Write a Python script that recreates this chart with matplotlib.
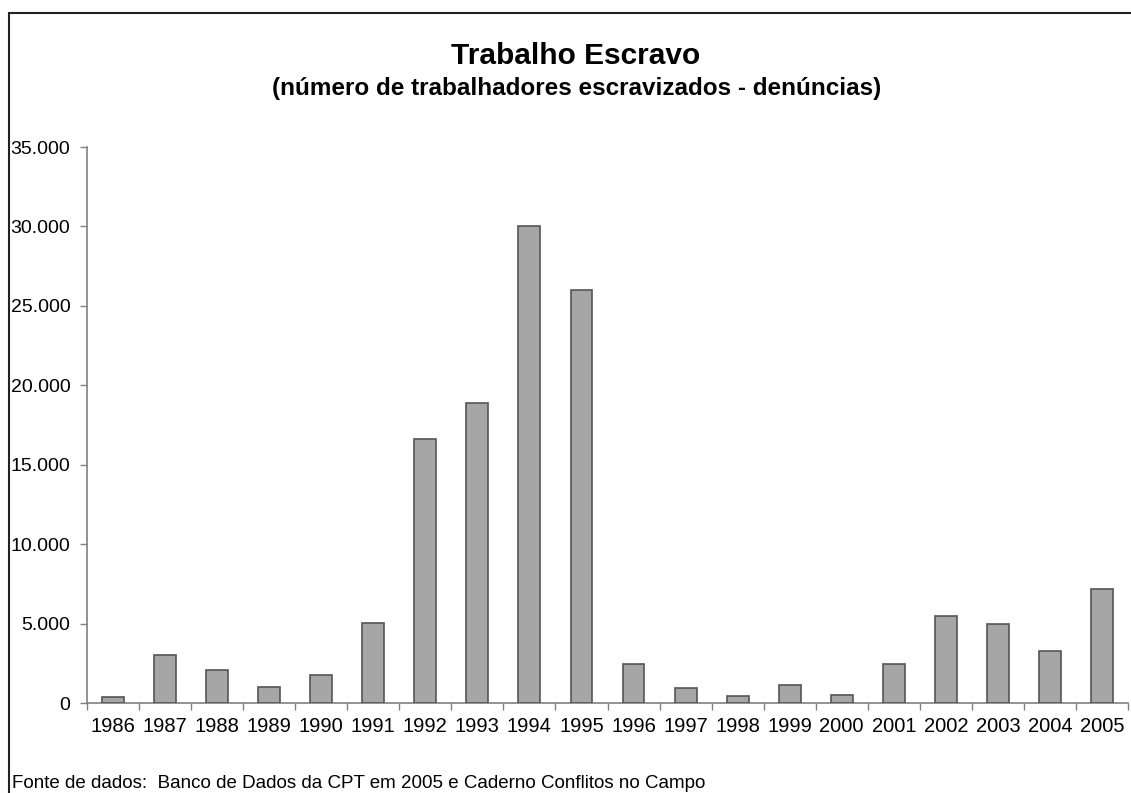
import matplotlib.pyplot as plt
from matplotlib.patches import Rectangle
from matplotlib.ticker import FuncFormatter, FixedLocator
import numpy as np

plt.rcParams['font.family'] = ['Liberation Sans', 'DejaVu Sans']

# Data
years = [1986, 1987, 1988, 1989, 1990, 1991, 1992, 1993, 1994, 1995,
         1996, 1997, 1998, 1999, 2000, 2001, 2002, 2003, 2004, 2005]
workers = [400, 3000, 2100, 1000, 1750, 5050, 16600, 18900, 30000, 26000,
           2450, 930, 470, 1120, 480, 2450, 5500, 4950, 3270, 7200]

title = "Trabalho Escravo"
subtitle = "(número de trabalhadores escravizados - denúncias)"
source = "Fonte de dados:  Banco de Dados da CPT em 2005 e Caderno Conflitos no Campo"

W, H = 1131, 793
fig = plt.figure(figsize=(W / 100, H / 100), dpi=100)
ax = fig.add_axes([87 / W, 1 - 703 / H, (1128 - 87) / W, (703 - 147) / H])

x = np.arange(len(years))
ax.bar(x, workers, width=0.42, color="#a6a6a6", edgecolor="#555555", linewidth=1.2, zorder=3)

ax.set_xlim(-0.5, len(years) - 0.5)
ax.set_ylim(0, 35000)
ax.set_yticks(np.arange(0, 35001, 5000))
ax.yaxis.set_major_formatter(FuncFormatter(lambda v, p: f"{int(v):,}".replace(",", ".")))
ax.set_xticks(x)
ax.set_xticklabels([str(y) for y in years])
ax.xaxis.set_minor_locator(FixedLocator(np.arange(-0.5, len(years), 1.0)))

for s in ["top", "right"]:
    ax.spines[s].set_visible(False)
for s in ["left", "bottom"]:
    ax.spines[s].set_color("#808080")
    ax.spines[s].set_linewidth(1.2)

ax.tick_params(axis="y", length=5, width=1, color="#808080", pad=7, labelsize=14)
ax.tick_params(axis="x", which="major", length=0, pad=10, labelsize=14.5)
ax.tick_params(axis="x", which="minor", length=5, width=1, color="#808080")

fig.text(576 / W, 1 - 64 / H, title, ha="center", va="baseline", fontsize=21.5, fontweight="bold")
fig.text(577 / W, 1 - 95 / H, subtitle, ha="center", va="baseline", fontsize=17.5, fontweight="bold")
fig.text(12 / W, 1 - 788 / H, source, ha="left", va="baseline", fontsize=13.5)

# border around the chart area
fig.patches.append(Rectangle((9 / W, -0.1), 1.2, 1 - 13 / H + 0.1, transform=fig.transFigure,
                             fill=False, edgecolor="#222222", linewidth=1.5))

fig.savefig("out.png", dpi=100)
